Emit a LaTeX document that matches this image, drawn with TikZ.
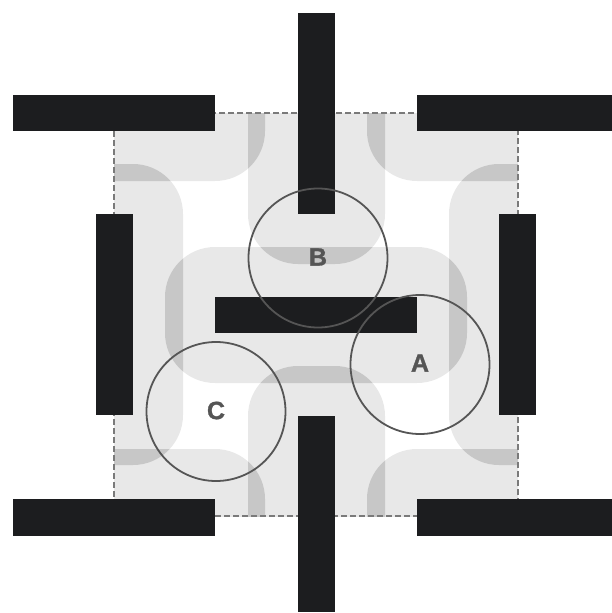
\documentclass[tikz,border=0pt]{standalone}
\usepackage{fontspec}
\setmainfont{Liberation Sans}
\newfontfamily\lblfont[FakeBold=1.2]{Liberation Sans Bold}
\definecolor{bufgray}{HTML}{E8E8E8}
\definecolor{ovgray}{HTML}{C7C7C7}
\definecolor{barblack}{HTML}{1C1D1F}
\definecolor{ringgray}{HTML}{555555}
\definecolor{dashgray}{HTML}{7A7A7A}
\begin{document}
\begin{tikzpicture}[x=1pt,y=-1pt,
  buf/.style={rounded corners=50pt},
  bar/.style={fill=barblack,draw=none},
  ring/.style={draw=ringgray,line width=1.8pt,circle,minimum size=139pt,inner sep=0pt},
  lbl/.style={text=ringgray,font=\lblfont\fontsize{25}{25}\selectfont,inner sep=0pt}]
\useasboundingbox (0,0) rectangle (612,613);
% buffer regions
\def\bA{(-37,45) rectangle (265,181)}
\def\bB{(367,45) rectangle (662,181)}
\def\bC{(248,-37) rectangle (385,264)}
\def\bD{(46,164) rectangle (183,465)}
\def\bE{(449,164) rectangle (586,465)}
\def\bF{(165,247) rectangle (467,383)}
\def\bG{(248,366) rectangle (385,662)}
\def\bH{(-37,449) rectangle (265,586)}
\def\bI{(367,449) rectangle (662,586)}
\begin{scope}
  \clip (114,113) rectangle (518,516);
  \foreach \p in {\bA,\bB,\bC,\bD,\bE,\bF,\bG,\bH,\bI}{
    \fill[bufgray,buf] \p;
  }
  \foreach \p/\q in {\bA/\bC,\bA/\bD,\bB/\bC,\bB/\bE,\bC/\bF,\bD/\bF,\bE/\bF,\bF/\bG,\bG/\bH,\bG/\bI,\bD/\bH,\bE/\bI}{
    \begin{scope}
      \clip[buf] \p;
      \fill[ovgray,buf] \q;
    \end{scope}
  }
\end{scope}
% dashed frame
\draw[dashgray,line width=1.2pt,dash pattern=on 6pt off 3pt] (114,113) rectangle (518,516);
% bars
\node[bar,minimum width=202pt,minimum height=36pt,inner sep=0pt] (tl) at (114,113) {};
\node[bar,minimum width=195pt,minimum height=36pt,inner sep=0pt] (tr) at (514.5,113) {};
\node[bar,minimum width=37pt,minimum height=201pt,inner sep=0pt] (tv) at (316.5,113.5) {};
\node[bar,minimum width=37pt,minimum height=201pt,inner sep=0pt] (lv) at (114.5,314.5) {};
\node[bar,minimum width=37pt,minimum height=201pt,inner sep=0pt] (rv) at (517.5,314.5) {};
\node[bar,minimum width=202pt,minimum height=36pt,inner sep=0pt] (cb) at (316,315) {};
\node[bar,minimum width=37pt,minimum height=196pt,inner sep=0pt] (bv) at (316.5,514) {};
\node[bar,minimum width=202pt,minimum height=37pt,inner sep=0pt] (bl) at (114,517.5) {};
\node[bar,minimum width=195pt,minimum height=37pt,inner sep=0pt] (br) at (514.5,517.5) {};
% rings
\node[ring] (rb) at (318,258) {};
\node[ring] (ra) at (420,364.5) {};
\node[ring] (rc) at (216,411.5) {};
\node[lbl] (la) at (420,363) {A};
\node[lbl] (lb) at (318,257) {B};
\node[lbl] (lc) at (216,410.5) {C};
\end{tikzpicture}
\end{document}
